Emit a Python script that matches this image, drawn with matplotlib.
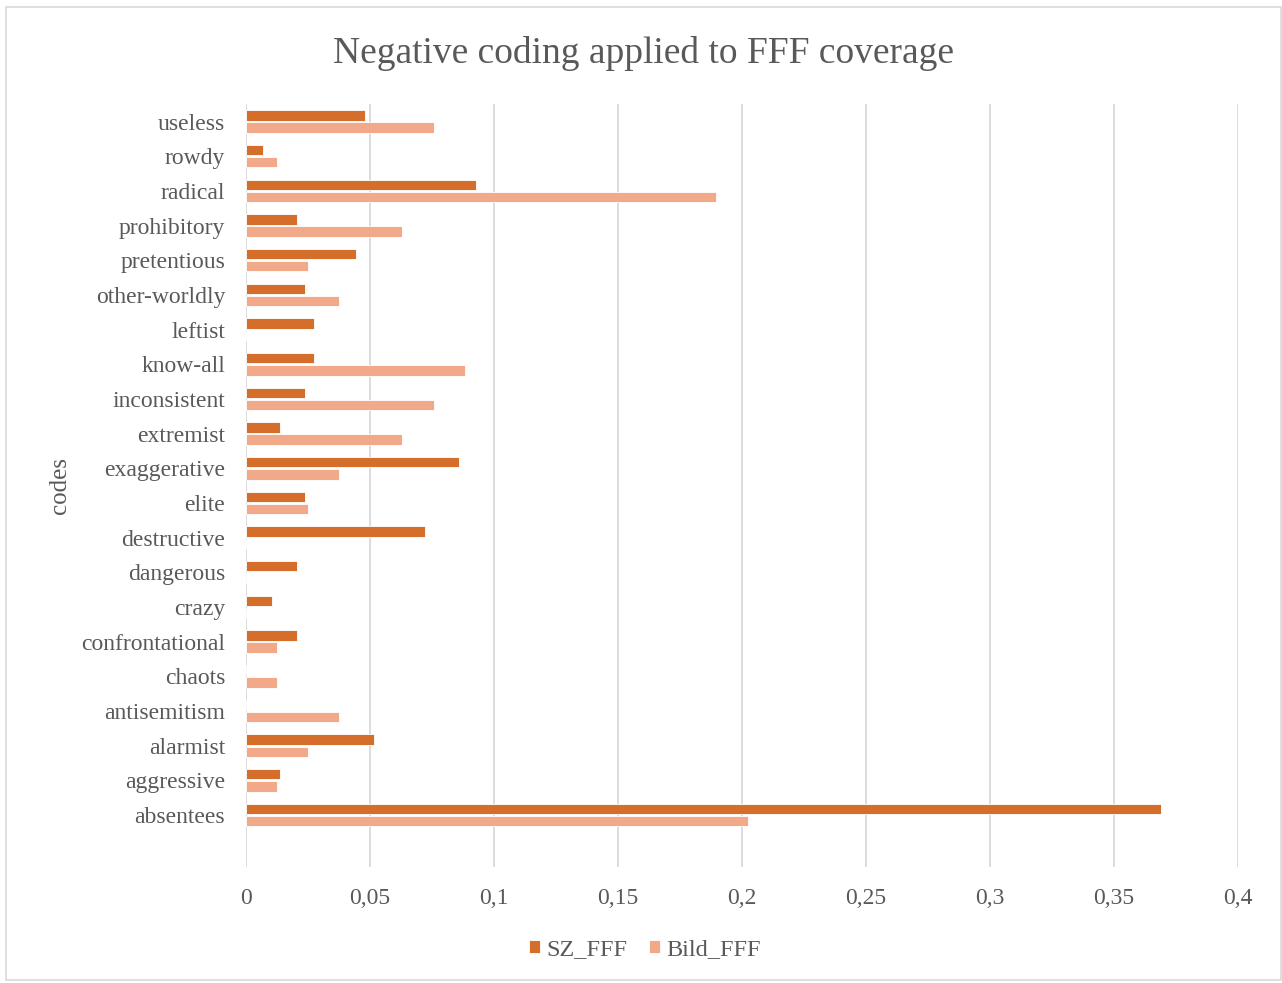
import matplotlib.pyplot as plt
import numpy as np
from matplotlib.patches import Rectangle

plt.rcParams["font.family"] = ["Liberation Serif", "DejaVu Serif"]

# categories from bottom to top
codes = ["absentees", "aggressive", "alarmist", "antisemitism", "chaots",
         "confrontational", "crazy", "dangerous", "destructive", "elite",
         "exaggerative", "extremist", "inconsistent", "know-all", "leftist",
         "other-worldly", "pretentious", "prohibitory", "radical", "rowdy",
         "useless"]

sz_fff = [0.369, 0.0137, 0.0516, 0.0, 0.0, 0.0206, 0.0103, 0.0206, 0.0722,
          0.0238, 0.0859, 0.0137, 0.0238, 0.0274, 0.0274, 0.0238, 0.0444,
          0.0206, 0.0927, 0.0069, 0.048]
bild_fff = [0.2024, 0.0125, 0.025, 0.0375, 0.0125, 0.0125, 0.0, 0.0, 0.0,
            0.025, 0.0375, 0.0629, 0.0758, 0.0883, 0.0, 0.0375, 0.025,
            0.0629, 0.1895, 0.0125, 0.0758]

xticks = [0, 0.05, 0.1, 0.15, 0.2, 0.25, 0.3, 0.35, 0.4]
xtick_labels = ["0", "0,05", "0,1", "0,15", "0,2", "0,25", "0,3", "0,35", "0,4"]

sz_color = "#D46E2A"
bild_color = "#F2A98A"
text_color = "#595959"
grid_color = "#D9D9D9"

fig = plt.figure(figsize=(12.82, 9.83), dpi=100)
ax = fig.add_axes([0.1919, 0.118, 0.7738, 0.776])

y = np.arange(len(codes))
h = 0.3
ax.barh(y + 0.175, sz_fff, height=h, color=sz_color, edgecolor="white", linewidth=0.6, label="SZ_FFF", zorder=3)
ax.barh(y - 0.175, bild_fff, height=h, color=bild_color, edgecolor="white", linewidth=0.6, label="Bild_FFF", zorder=3)

ax.set_xlim(0, 0.4)
ax.set_ylim(-1.5, 20.5)
ax.set_yticks(y)
ax.set_yticklabels(codes)
ax.set_xticks(xticks)
ax.set_xticklabels(xtick_labels)
ax.tick_params(axis="both", length=0, labelsize=17, colors=text_color)
ax.tick_params(axis="x", pad=15)
ax.tick_params(axis="y", pad=15)

ax.grid(axis="x", color=grid_color, linewidth=1.3, zorder=0)
for s in ax.spines.values():
    s.set_visible(False)

ax.set_ylabel("codes", fontsize=18, color=text_color)
ax.yaxis.set_label_coords(-0.1765, 0.5)

fig.text(0.502, 0.946, "Negative coding applied to FFF coverage", fontsize=27,
         color=text_color, ha="center", va="center")

fig.legend(loc="center", bbox_to_anchor=(0.503, 0.034), ncol=2, frameon=False,
           fontsize=17.5, labelcolor=text_color, handlelength=0.45, handleheight=0.45,
           handletextpad=0.25, columnspacing=0.9)

# chart border
fig.patches.append(Rectangle((0.005, 0.003), 0.994, 0.99, transform=fig.transFigure,
                             fill=False, edgecolor="#D9D9D9", linewidth=1.2))

fig.savefig("out.png", dpi=100)
